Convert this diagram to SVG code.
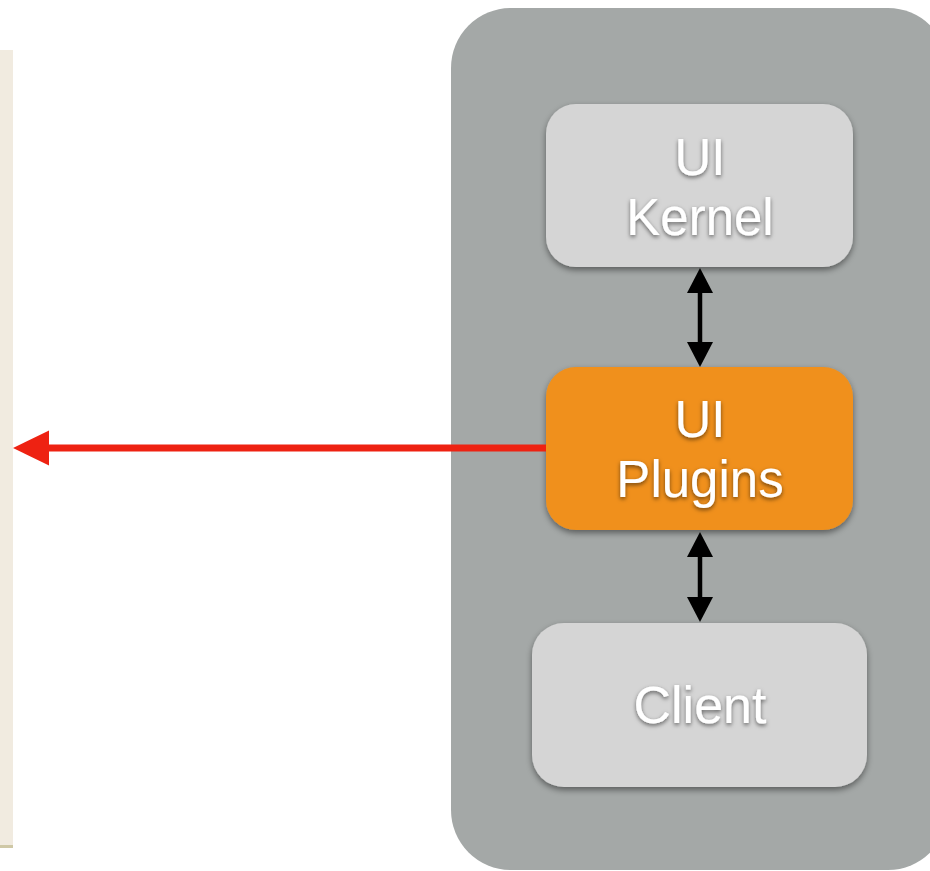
<svg xmlns="http://www.w3.org/2000/svg" width="930" height="871" viewBox="0 0 930 871">
  <defs>
    <style>
      .grey { fill: #d5d5d5; }
      .orange { fill: #f0901b; }
      .label { font-family: "Liberation Sans", Arial, Helvetica, sans-serif; font-size: 51px; fill: #ffffff; text-anchor: middle; }
      .link { stroke: #000000; stroke-width: 4.5; fill: none; }
      .head { fill: #000000; }
      .call { stroke: #ee2212; stroke-width: 7; fill: none; }
      .call-head { fill: #ee2212; }
    </style>
    <filter id="boxShadow" x="-10%" y="-10%" width="120%" height="130%">
      <feDropShadow dx="0" dy="3" stdDeviation="3" flood-color="#000000" flood-opacity="0.45"/>
    </filter>
    <filter id="textShadow" x="-10%" y="-20%" width="120%" height="150%">
      <feDropShadow dx="0" dy="2" stdDeviation="2" flood-color="#000000" flood-opacity="0.55"/>
    </filter>
  </defs>

  <rect width="930" height="871" fill="#ffffff"/>

  <!-- left-hand panel -->
  <g id="left-panel">
    <rect x="0" y="50" width="13" height="795" fill="#f1ebe0"/>
    <rect x="0" y="845" width="13" height="3" fill="#cfc8a6"/>
  </g>

  <!-- container holding the UI stack -->
  <g id="container">
    <rect x="451" y="8" width="497" height="862" rx="60" ry="60" fill="#a4a8a7"/>
  </g>

  <g id="ui-kernel">
    <rect class="grey" x="546" y="104" width="307" height="163" rx="30" ry="30" filter="url(#boxShadow)"/>
    <g filter="url(#textShadow)">
      <text class="label" x="700" y="175">UI</text>
      <text class="label" x="700" y="235">Kernel</text>
    </g>
  </g>

  <g id="ui-plugins">
    <rect class="orange" x="546" y="367" width="307" height="163" rx="30" ry="30" filter="url(#boxShadow)"/>
    <g filter="url(#textShadow)">
      <text class="label" x="700" y="437">UI</text>
      <text class="label" x="700" y="497">Plugins</text>
    </g>
  </g>

  <g id="client">
    <rect class="grey" x="532" y="623" width="335" height="164" rx="32" ry="32" filter="url(#boxShadow)"/>
    <g filter="url(#textShadow)">
      <text class="label" x="700" y="723" style="font-size:52px">Client</text>
    </g>
  </g>

  <g id="connectors">
    <!-- kernel <-> plugins -->
    <line class="link" x1="700" y1="290" x2="700" y2="345"/>
    <path class="head" d="M700,268 L713,293 L687,293 Z"/>
    <path class="head" d="M700,367 L713,342 L687,342 Z"/>
    <!-- plugins <-> client -->
    <line class="link" x1="700" y1="554" x2="700" y2="600"/>
    <path class="head" d="M700,532 L713,557 L687,557 Z"/>
    <path class="head" d="M700,622 L713,597 L687,597 Z"/>
    <!-- plugins -> left panel -->
    <line class="call" x1="546" y1="448" x2="47" y2="448"/>
    <path class="call-head" d="M13,448 L49,430.5 L49,465.5 Z"/>
  </g>
</svg>
